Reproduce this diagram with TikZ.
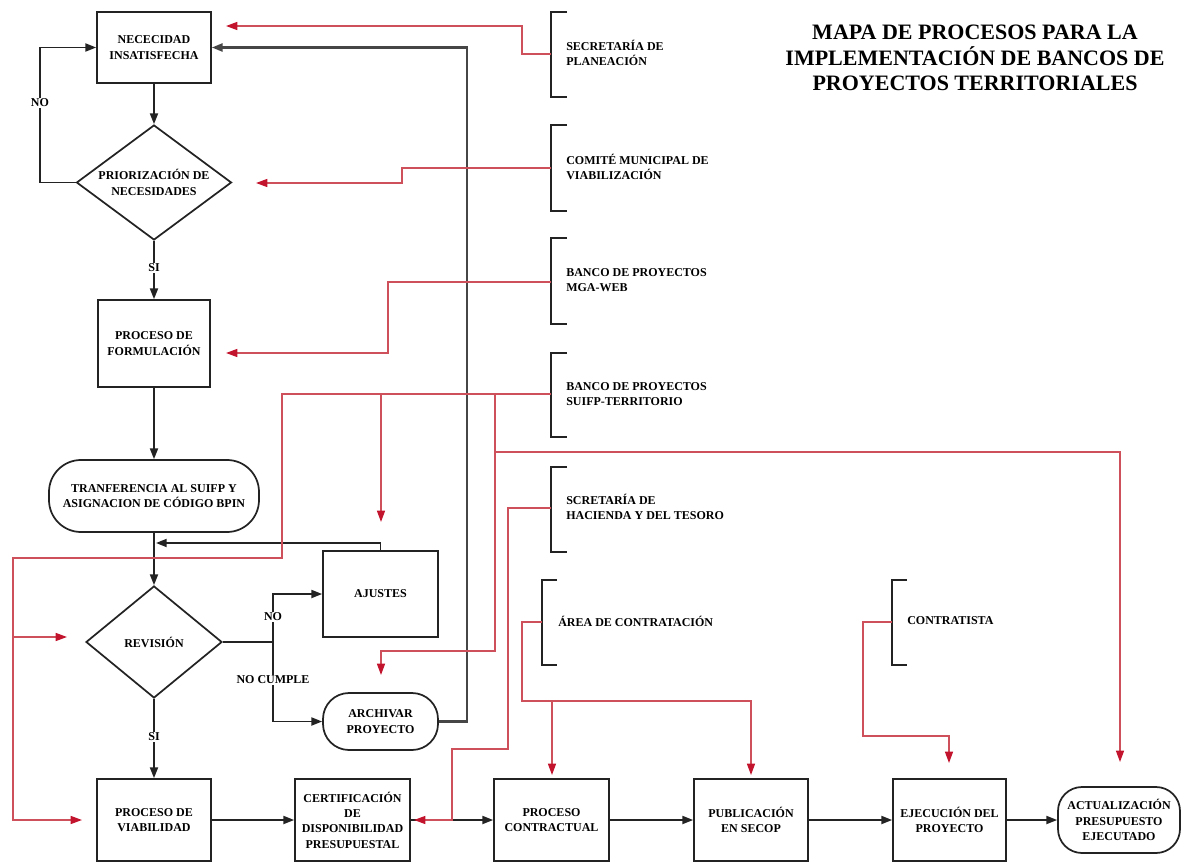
\documentclass[tikz,border=0pt]{standalone}
\usepackage{fontspec}
\setmainfont{Liberation Serif}
\usetikzlibrary{arrows.meta,shapes.geometric}
\definecolor{rl}{RGB}{205,80,90}
\definecolor{ra}{RGB}{195,20,45}
\definecolor{bl}{RGB}{35,35,35}
\begin{document}
\begin{tikzpicture}[x=0.75pt,y=-0.75pt,
  font=\fontsize{9}{11.5}\selectfont\bfseries,
  box/.style 2 args={draw=bl,line width=1.3pt,rectangle,align=center,inner sep=0pt,
    minimum width=#1*0.75pt,minimum height=#2*0.75pt},
  stad/.style n args={3}{draw=bl,line width=1.3pt,rectangle,rounded corners=#3*0.75pt,align=center,inner sep=0pt,
    minimum width=#1*0.75pt,minimum height=#2*0.75pt},
  dia/.style n args={3}{draw=bl,line width=1.3pt,diamond,shape aspect=#3,align=center,inner sep=0pt,
    minimum width=#1*0.75pt,minimum height=#2*0.75pt},
  conn/.style={draw=bl,line width=1.3pt},
  arr/.style={conn,-{Triangle[length=8pt,width=6pt]}},
  rline/.style={draw=rl,line width=1pt},
  rarr/.style={rline,-{Triangle[length=8.5pt,width=6pt,color=ra]}},
  brk/.style={draw=bl,line width=1.6pt},
  lbl/.style={fill=white,inner sep=1pt},
  btxt/.style={anchor=west,align=left,inner sep=0pt}
]
\useasboundingbox (0,0) rectangle (1182,863);

% ---- title
\node[align=center,font=\fontsize{16.5}{19}\selectfont\bfseries] (title) at (975,58)
  {MAPA DE PROCESOS PARA LA\\IMPLEMENTACIÓN DE BANCOS DE\\PROYECTOS TERRITORIALES};

% ---- main nodes
\node[box={114}{71}] (nec) at (154,47.5) {NECECIDAD\\INSATISFECHA};
\node[dia={155}{115}{1.35}] (prio) at (154,182.5) {PRIORIZACIÓN DE\\NECESIDADES};
\node[box={112}{87}] (form) at (154,343.5) {PROCESO DE\\FORMULACIÓN};
\node[stad={210}{72}{32}] (tran) at (154,496) {TRANFERENCIA AL SUIFP Y\\ASIGNACION DE CÓDIGO BPIN};
\node[dia={136}{112}{1.2}] (rev) at (154,642) {REVISIÓN};
\node[box={115}{86}] (ajus) at (380.5,594) {AJUSTES};
\node[stad={115}{57}{26}] (arch) at (380.5,721.5) {ARCHIVAR\\PROYECTO};
\node[box={114}{82}] (viab) at (154,820) {PROCESO DE\\VIABILIDAD};
\node[box={115}{82}] (cert) at (352.5,820) {CERTIFICACIÓN\\DE\\DISPONIBILIDAD\\PRESUPUESTAL};
\node[box={115}{82}] (contr) at (551.5,820) {PROCESO\\CONTRACTUAL};
\node[box={114}{82}] (pub) at (751,820) {PUBLICACIÓN\\EN SECOP};
\node[box={113}{82}] (ejec) at (949.5,820) {EJECUCIÓN DEL\\PROYECTO};
\node[stad={122}{66}{24}] (act) at (1119,820) {ACTUALIZACIÓN\\PRESUPUESTO\\EJECUTADO};

% ---- brackets (actors)
\draw[brk] (567,12) -- (551,12) -- (551,97) -- (567,97);
\draw[brk] (567,125) -- (551,125) -- (551,211) -- (567,211);
\draw[brk] (567,238) -- (551,238) -- (551,324) -- (567,324);
\draw[brk] (567,353) -- (551,353) -- (551,437) -- (567,437);
\draw[brk] (567,467) -- (551,467) -- (551,552) -- (567,552);
\draw[brk] (557,580) -- (542,580) -- (542,665) -- (557,665);
\draw[brk] (907,580) -- (892,580) -- (892,665) -- (907,665);
\node[btxt] (t1) at (566,53) {SECRETARÍA DE\\PLANEACIÓN};
\node[btxt] (t2) at (566,167) {COMITÉ MUNICIPAL DE\\VIABILIZACIÓN};
\node[btxt] (t3) at (566,280) {BANCO DE PROYECTOS\\MGA-WEB};
\node[btxt] (t4) at (566,394) {BANCO DE PROYECTOS\\SUIFP-TERRITORIO};
\node[btxt] (t5) at (566,507) {SCRETARÍA DE\\HACIENDA Y DEL TESORO};
\node[btxt] (t6) at (558,621) {ÁREA DE CONTRATACIÓN};
\node[btxt] (t7) at (907,621) {CONTRATISTA};

\coordinate (b1) at (551,54);
\coordinate (b2) at (551,168);
\coordinate (b3) at (551,282);
\coordinate (b4) at (551,394);
\coordinate (b5) at (551,508);
\coordinate (b6) at (542,622);
\coordinate (b7) at (892,622);

% ---- black connectors
\coordinate (j1) at (156,543);
\coordinate (sp) at (273,642);
\draw[arr] (nec.south) -- (prio.north);
\draw[arr] (prio.west) -- (40,182.5) -- (40,47.5) -- (nec.west);
\draw[arr] (prio.south) -- (form.north);
\draw[arr] (form.south) -- (tran.north);
\draw[arr] (tran.south) -- (rev.north);
\draw[arr] (ajus.north) |- (j1);
\draw[conn] (rev.east) -- (sp);
\draw[arr] (sp) |- (ajus.west);
\draw[arr] (sp) |- (arch.west);
\draw[arr,draw={rgb,255:red,70;green,70;blue,70},line width=1.6pt] (arch.east) -- (467,721.5) -- (467,47.5) -- (nec.east);
\draw[arr] (rev.south) -- (viab.north);
\draw[arr] (viab.east) -- (cert.west);
\draw[arr] (cert.east) -- (contr.west);
\draw[arr] (contr.east) -- (pub.west);
\draw[arr] (pub.east) -- (ejec.west);
\draw[arr] (ejec.east) -- (act.west);

\node[lbl] (lno1) at (40,103) {NO};
\node[lbl] (lsi1) at (154,268) {SI};
\node[lbl] (lno2) at (273,617) {NO};
\node[lbl] (lnoc) at (273,680) {NO CUMPLE};
\node[lbl] (lsi2) at (154,737) {SI};

% ---- red connectors
\coordinate (e1) at (226,26);
\coordinate (e2) at (256,183);
\coordinate (e3) at (226,353);
\coordinate (e4a) at (82,820);
\coordinate (e4b) at (67,637);
\coordinate (e4c) at (381,522);
\coordinate (e4d) at (381,675);
\coordinate (e4e) at (1120,762);
\coordinate (e5) at (414,820);
\coordinate (e6a) at (552,775);
\coordinate (e6b) at (751,775);
\coordinate (e7) at (949,763);

\draw[rarr] (b1) -- (522,54) -- (522,26) -- (e1);
\draw[rarr] (b2) -- (402,168) -- (402,183) -- (e2);
\draw[rarr] (b3) -- (388,282) -- (388,353) -- (e3);
\draw[rarr] (b4) -- (282,394) -- (282,558) -- (13,558) -- (13,820) -- (e4a);
\draw[rarr] (13,637) -- (e4b);
\draw[rarr] (381,394) -- (e4c);
\draw[rarr] (495,394) -- (495,651) -- (381,651) -- (e4d);
\draw[rarr] (495,452) -- (1120,452) -- (e4e);
\draw[rarr] (b5) -- (508,508) -- (508,749) -- (452,749) -- (452,820) -- (e5);
\draw[rarr] (b6) -- (522,622) -- (522,701) -- (751,701) -- (e6b);
\draw[rarr] (552,701) -- (e6a);
\draw[rarr] (b7) -- (863,622) -- (863,736) -- (949,736) -- (e7);
\end{tikzpicture}
\end{document}
